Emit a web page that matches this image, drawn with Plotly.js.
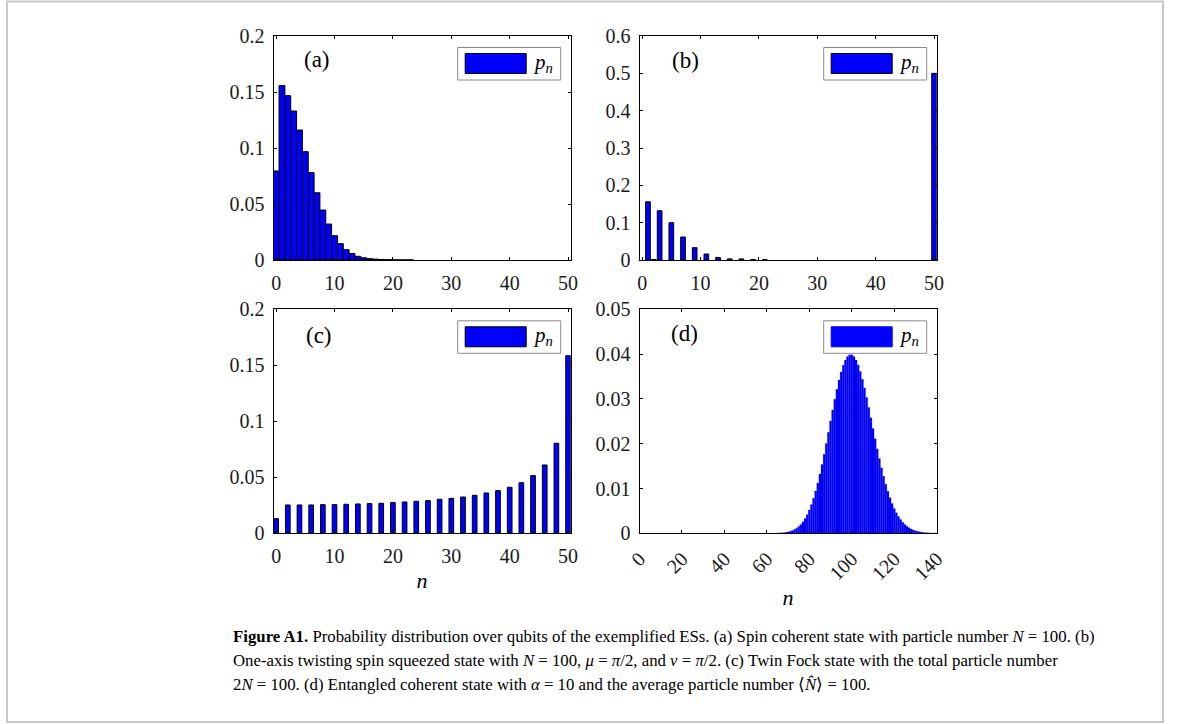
<!DOCTYPE html>
<html>
<head>
<meta charset="utf-8">
<script src="https://cdn.plot.ly/plotly-3.0.1.min.js"></script>
<style>html,body{margin:0;padding:0;background:#fff;}#chart{width:1181px;height:724px;}</style>
</head>
<body>
<div id="chart"></div>
<script>
// ---- data ----
const nA = [0,1,2,3,4,5,6,7,8,9,10,11,12,13,14,15,16,17,18,19,20,21,22,23];
const pA = [0.0795,0.1557,0.1467,0.1330,0.1160,0.0967,0.0780,0.0600,0.0446,0.0321,0.0217,0.0146,0.0092,0.0057,0.0033,0.0020,0.0012,0.0008,0.0005,0.0003,0.0002,0.0001,0.0001,0.0001];

const nB = [1,2,3,5,7,9,11,13,15,17,19,21,50];
const pB = [0.156,0.0015,0.132,0.100,0.0616,0.033,0.016,0.007,0.003,0.003,0.0015,0.001,0.5];

const nC = [0,2,4,6,8,10,12,14,16,18,20,22,24,26,28,30,32,34,36,38,40,42,44,46,48,50];
const pC = [0.0131,0.0253,0.0253,0.0253,0.0256,0.0256,0.0259,0.0262,0.0265,0.0268,0.0274,0.0280,0.0286,0.0292,0.0304,0.0312,0.0324,0.0339,0.0360,0.0381,0.0411,0.0452,0.0515,0.0610,0.0804,0.1586];

const nD = [62,63,64,65,66,67,68,69,70,71,72,73,74,75,76,77,78,79,80,81,82,83,84,85,86,87,88,89,90,91,92,93,94,95,96,97,98,99,100,101,102,103,104,105,106,107,108,109,110,111,112,113,114,115,116,117,118,119,120,121,122,123,124,125,126,127,128,129,130,131,132,133,134,135,136,137,138,139,140];
const pD = [0.00001,0.00002,0.00003,0.00005,0.00007,0.00010,0.00015,0.00022,0.00031,0.00044,0.00061,0.00083,0.00113,0.00150,0.00197,0.00256,0.00329,0.00416,0.00520,0.00642,0.00783,0.00943,0.01123,0.01321,0.01536,0.01765,0.02006,0.02254,0.02504,0.02752,0.02991,0.03216,0.03421,0.03601,0.03751,0.03867,0.03946,0.03986,0.03986,0.03947,0.03869,0.03757,0.03612,0.03440,0.03245,0.03033,0.02808,0.02577,0.02342,0.02110,0.01884,0.01667,0.01463,0.01272,0.01096,0.00937,0.00794,0.00667,0.00556,0.00460,0.00377,0.00306,0.00247,0.00198,0.00157,0.00124,0.00097,0.00075,0.00058,0.00044,0.00033,0.00025,0.00019,0.00014,0.00010,0.00007,0.00005,0.00004,0.00003];

const xTicks50 = [0,10,20,30,40,50];
const xTicks50Text = ['0','10','20','30','40','50'];
const xTicks140 = [0,20,40,60,80,100,120,140];
const xTicks140Text = ['0','20','40','60','80','100','120','140'];
const yTicks02 = [0,0.05,0.1,0.15,0.2];
const yTicks02Text = ['0','0.05','0.1','0.15','0.2'];
const yTicks06 = [0,0.1,0.2,0.3,0.4,0.5,0.6];
const yTicks06Text = ['0','0.1','0.2','0.3','0.4','0.5','0.6'];
const yTicks005 = [0,0.01,0.02,0.03,0.04,0.05];
const yTicks005Text = ['0','0.01','0.02','0.03','0.04','0.05'];
const panelLabels = ['(a)','(b)','(c)','(d)'];
const legendText = '<i>p</i><sub><i>n</i></sub>';
const captionLines = [
  '<b>Figure A1.</b> Probability distribution over qubits of the exemplified ESs. (a) Spin coherent state with particle number <i>N</i> = 100. (b)',
  'One-axis twisting spin squeezed state with <i>N</i> = 100, <i>μ</i> = <i>π</i>/2, and <i>ν</i> = <i>π</i>/2. (c) Twin Fock state with the total particle number',
  '2<i>N</i> = 100. (d) Entangled coherent state with <i>α</i> = 10 and the average particle number ⟨<i>N̂</i>⟩ = 100.'
];

// ---- layout geometry (pixels -> paper) ----
const W = 1181, H = 724;
const px = x => x / W;
const py = y => 1 - y / H;
const SERIF = 'Liberation Serif, Times New Roman, serif';
const BLUE = '#0000ff';
const TICKFONT = {family: SERIF, size: 20, color: '#1a1a1a'};

const colL = [273.5, 570.7], colR = [639.5, 936.7];
const rowT = [36, 260], rowB = [309.3, 533.3];

function xax(dom, anchor, range, tv, tt, angle) {
  return {domain: [px(dom[0]), px(dom[1])], anchor: anchor, range: range, autorange: false,
    tickmode: 'array', tickvals: tv, ticktext: tt, tickangle: angle || 0,
    ticks: 'inside', ticklen: 3, tickwidth: 1, tickcolor: '#000',
    showline: true, linecolor: '#000', linewidth: 1, mirror: 'allticks',
    showgrid: false, zeroline: false, ticklabelstandoff: 5,
    tickfont: TICKFONT};
}
function yax(dom, anchor, range, tv, tt) {
  return {domain: [py(dom[1]), py(dom[0])], anchor: anchor, range: range, autorange: false,
    tickmode: 'array', tickvals: tv, ticktext: tt,
    ticks: 'inside', ticklen: 3, tickwidth: 1, tickcolor: '#000',
    showline: true, linecolor: '#000', linewidth: 1, mirror: 'allticks',
    showgrid: false, zeroline: false, ticklabelstandoff: 4,
    tickfont: TICKFONT};
}

const traces = [
  {type: 'bar', name: 'p_n', x: nA, y: pA, xaxis: 'x', yaxis: 'y', width: 1,
   marker: {color: BLUE, line: {color: '#000', width: 1}}, showlegend: false},
  {type: 'bar', name: 'p_n', x: nB, y: pB, xaxis: 'x2', yaxis: 'y2', width: 0.8,
   marker: {color: BLUE, line: {color: '#000', width: 1}}, showlegend: false},
  {type: 'bar', name: 'p_n', x: nC, y: pC, xaxis: 'x3', yaxis: 'y3', width: 0.8,
   marker: {color: BLUE, line: {color: '#000', width: 1}}, showlegend: false},
  {type: 'bar', name: 'p_n', x: nD, y: pD, xaxis: 'x4', yaxis: 'y4', width: 1,
   marker: {color: BLUE, line: {color: 'rgba(0,0,150,0.45)', width: 0.4}}, showlegend: false}
];

const shapes = [];
const annotations = [];
// outer frame
shapes.push({type: 'rect', xref: 'paper', yref: 'paper', x0: px(7), x1: px(1163), y0: py(722), y1: py(1.5),
  line: {color: '#c8c8c8', width: 2}, fillcolor: 'rgba(0,0,0,0)'});

const panels = [
  {cx: colL, ry: rowT, lab: [317, 59]},
  {cx: colR, ry: rowT, lab: [685, 60]},
  {cx: colL, ry: rowB, lab: [318.5, 335]},
  {cx: colR, ry: rowB, lab: [684, 333]}
];
panels.forEach((p, i) => {
  const R = p.cx[1], T = p.ry[0];
  const bx0 = R - 113, bx1 = R - 10, by0 = T + 11.5, by1 = T + 44;
  shapes.push({type: 'rect', xref: 'paper', yref: 'paper', x0: px(bx0), x1: px(bx1), y0: py(by1), y1: py(by0),
    line: {color: '#8a8a8a', width: 1}, fillcolor: '#ffffff', layer: 'above'});
  shapes.push({type: 'rect', xref: 'paper', yref: 'paper', x0: px(bx0 + 7.5), x1: px(bx0 + 68.5), y0: py(T + 37.5), y1: py(T + 17.5),
    line: {color: i === 3 ? BLUE : '#000', width: 1}, fillcolor: BLUE, layer: 'above'});
  annotations.push({xref: 'paper', yref: 'paper', x: px(bx0 + 73), y: py(T + 27), xanchor: 'left', yanchor: 'middle',
    text: legendText, showarrow: false, font: {family: SERIF, size: 21, color: '#000'}});
  annotations.push({xref: 'paper', yref: 'paper', x: px(p.lab[0]), y: py(p.lab[1]), xanchor: 'center', yanchor: 'middle',
    text: panelLabels[i], showarrow: false, font: {family: SERIF, size: 23, color: '#000'}});
});

const capY = [636, 660, 684];
captionLines.forEach((t, i) => {
  annotations.push({xref: 'paper', yref: 'paper', x: px(231), y: py(capY[i]), xanchor: 'left', yanchor: 'middle',
    text: t, showarrow: false, align: 'left', font: {family: SERIF, size: 16.8, color: '#000'}});
});

const layout = {
  width: W, height: H, margin: {l: 0, r: 0, t: 0, b: 0},
  paper_bgcolor: '#fff', plot_bgcolor: '#fff', showlegend: false, bargap: 0,
  xaxis: xax(colL, 'y', [-0.45, 50.45], xTicks50, xTicks50Text),
  yaxis: yax(rowT, 'x', [0, 0.2], yTicks02, yTicks02Text),
  xaxis2: xax(colR, 'y2', [-0.45, 50.45], xTicks50, xTicks50Text),
  yaxis2: yax(rowT, 'x2', [0, 0.6], yTicks06, yTicks06Text),
  xaxis3: Object.assign(xax(colL, 'y3', [-0.45, 50.45], xTicks50, xTicks50Text),
    {title: {text: '<i>n</i>', font: {family: SERIF, size: 22, color: '#000'}, standoff: 6}}),
  yaxis3: yax(rowB, 'x3', [0, 0.2], yTicks02, yTicks02Text),
  xaxis4: Object.assign(xax(colR, 'y4', [0, 140], xTicks140, xTicks140Text, -45),
    {title: {text: '<i>n</i>', font: {family: SERIF, size: 22, color: '#000'}, standoff: 6}}),
  yaxis4: yax(rowB, 'x4', [0, 0.05], yTicks005, yTicks005Text),
  shapes: shapes,
  annotations: annotations
};

Plotly.newPlot('chart', traces, layout, {staticPlot: true, displayModeBar: false});
</script>
</body>
</html>
